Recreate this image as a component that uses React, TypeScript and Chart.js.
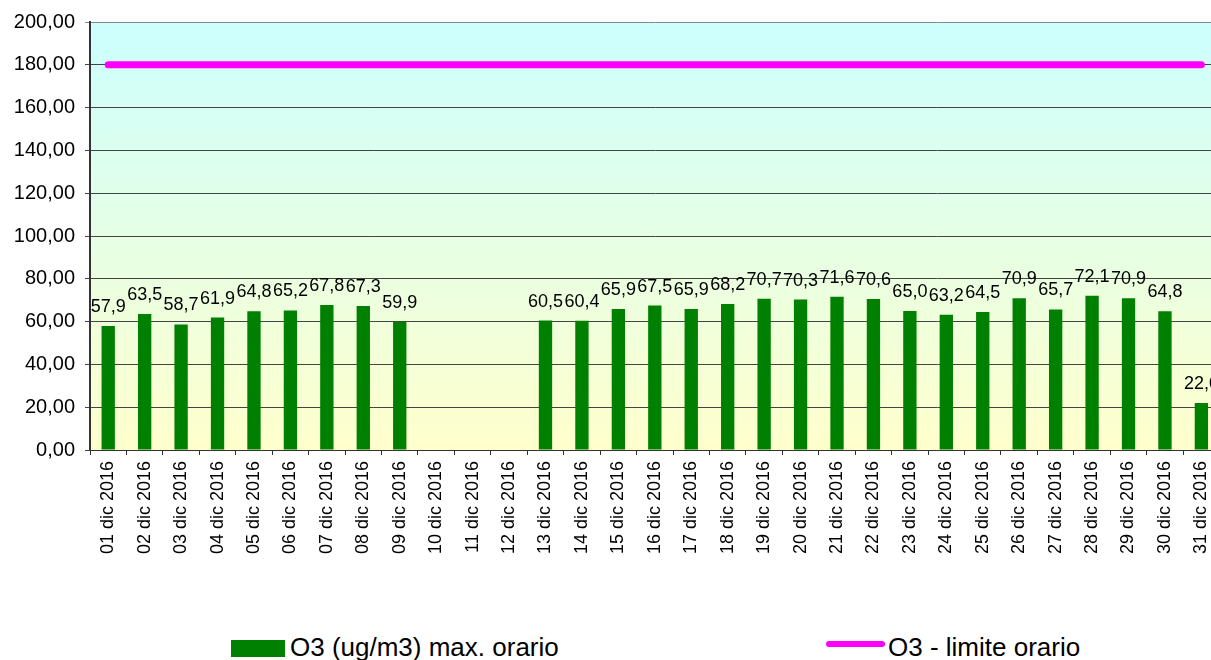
import React, { useEffect, useRef } from "react";
import { Chart, registerables } from "chart.js";

Chart.register(...registerables);

const categories: string[] = [
  "01 dic 2016", "02 dic 2016", "03 dic 2016", "04 dic 2016", "05 dic 2016",
  "06 dic 2016", "07 dic 2016", "08 dic 2016", "09 dic 2016", "10 dic 2016",
  "11 dic 2016", "12 dic 2016", "13 dic 2016", "14 dic 2016", "15 dic 2016",
  "16 dic 2016", "17 dic 2016", "18 dic 2016", "19 dic 2016", "20 dic 2016",
  "21 dic 2016", "22 dic 2016", "23 dic 2016", "24 dic 2016", "25 dic 2016",
  "26 dic 2016", "27 dic 2016", "28 dic 2016", "29 dic 2016", "30 dic 2016",
  "31 dic 2016",
];

const o3MaxHourly: (number | null)[] = [
  57.9, 63.5, 58.7, 61.9, 64.8, 65.2, 67.8, 67.3, 59.9, null,
  null, null, 60.5, 60.4, 65.9, 67.5, 65.9, 68.2, 70.7, 70.3,
  71.6, 70.6, 65.0, 63.2, 64.5, 70.9, 65.7, 72.1, 70.9, 64.8,
  22.0,
];

const o3HourlyLimit: number[] = [
  180, 180, 180, 180, 180, 180, 180, 180, 180, 180,
  180, 180, 180, 180, 180, 180, 180, 180, 180, 180,
  180, 180, 180, 180, 180, 180, 180, 180, 180, 180,
  180,
];

const yMin = 0;
const yMax = 200;
const yStep = 20;

const seriesNames = ["O3 (ug/m3) max. orario", "O3 - limite orario"];

const FONT = "'Liberation Sans', Arial, sans-serif";

const fmt = (v: number, d: number) => v.toFixed(d).replace(".", ",");

const bgPlugin = {
  id: "bgGradient",
  beforeDraw(chart: any) {
    const { ctx, chartArea } = chart;
    if (!chartArea) return;
    const g = ctx.createLinearGradient(0, chartArea.top, 0, chartArea.bottom);
    g.addColorStop(0, "#CCFFFF");
    g.addColorStop(1, "#FFFFCC");
    ctx.save();
    ctx.fillStyle = g;
    ctx.fillRect(chartArea.left, chartArea.top, chartArea.right - chartArea.left, chartArea.bottom - chartArea.top);
    ctx.restore();
  },
};

const labelPlugin = {
  id: "barLabels",
  afterDatasetsDraw(chart: any) {
    const { ctx } = chart;
    const meta = chart.getDatasetMeta(0);
    const data = chart.data.datasets[0].data;
    ctx.save();
    ctx.font = `18px ${FONT}`;
    ctx.fillStyle = "#000";
    ctx.textAlign = "center";
    ctx.textBaseline = "alphabetic";
    meta.data.forEach((el: any, i: number) => {
      const v = data[i];
      if (v === null || v === undefined) return;
      ctx.fillText(fmt(v, 1), el.x, el.y - 14);
    });
    ctx.restore();
  },
};

export default function App() {
  const ref = useRef<HTMLCanvasElement>(null);

  useEffect(() => {
    if (!ref.current) return;
    const chart = new Chart(ref.current, {
      type: "bar",
      data: {
        labels: categories,
        datasets: [
          {
            type: "bar",
            label: seriesNames[0],
            data: o3MaxHourly,
            backgroundColor: "#008000",
            borderWidth: 0,
            categoryPercentage: 1,
            barPercentage: 0.366,
            order: 2,
          } as any,
          {
            type: "line",
            label: seriesNames[1],
            data: o3HourlyLimit,
            borderColor: "#FF00FF",
            backgroundColor: "#FF00FF",
            borderWidth: 7,
            borderCapStyle: "round",
            pointRadius: 0,
            fill: false,
            order: 1,
          } as any,
        ],
      },
      options: {
        responsive: false,
        animation: false,
        devicePixelRatio: 1,
        layout: { padding: { top: 21, left: 0, right: 0, bottom: 0 } },
        plugins: {
          legend: { display: false },
          tooltip: { enabled: false },
        },
        scales: {
          x: {
            offset: true,
            grid: {
              offset: true,
              drawOnChartArea: false,
              drawTicks: true,
              tickLength: 5,
              color: "#333",
            },
            border: { display: true, color: "#333", width: 1 },
            ticks: {
              autoSkip: false,
              minRotation: 90,
              maxRotation: 90,
              padding: 6,
              color: "#000",
              font: { family: FONT, size: 18 },
            },
            afterFit(scale: any) {
              scale.height = 150;
            },
          },
          y: {
            min: yMin,
            max: yMax,
            grid: {
              color: (c: any) => (c.tick && c.tick.value === yMax ? "#888" : "#444"),
              drawTicks: true,
              tickLength: 5,
            },
            border: { display: true, color: "#333", width: 2 },
            ticks: {
              stepSize: yStep,
              padding: 10,
              color: "#000",
              font: { family: FONT, size: 20 },
              callback: (v: any) => fmt(Number(v), 2),
            },
            afterFit(scale: any) {
              scale.width = 90;
            },
          },
        },
      },
      plugins: [bgPlugin, labelPlugin],
    });
    return () => chart.destroy();
  }, []);

  const textStyle: React.CSSProperties = {
    position: "absolute",
    fontFamily: FONT,
    fontSize: "26px",
    lineHeight: "26px",
    color: "#000",
    whiteSpace: "nowrap",
    top: 634,
  };

  return (
    <div style={{ position: "fixed", left: 0, top: 0, width: 1240, height: 660, overflow: "hidden", background: "#fff" }}>
      <canvas ref={ref} width={1229} height={600} style={{ position: "absolute", left: 0, top: 0, width: 1229, height: 600 }} />
      <div style={{ position: "absolute", left: 231, top: 640, width: 54, height: 17, background: "#008000" }} />
      <div style={{ ...textStyle, left: 290 }}>{seriesNames[0]}</div>
      <div style={{ position: "absolute", left: 826, top: 641, width: 59, height: 6, borderRadius: 3, background: "#FF00FF" }} />
      <div style={{ ...textStyle, left: 888 }}>{seriesNames[1]}</div>
    </div>
  );
}
